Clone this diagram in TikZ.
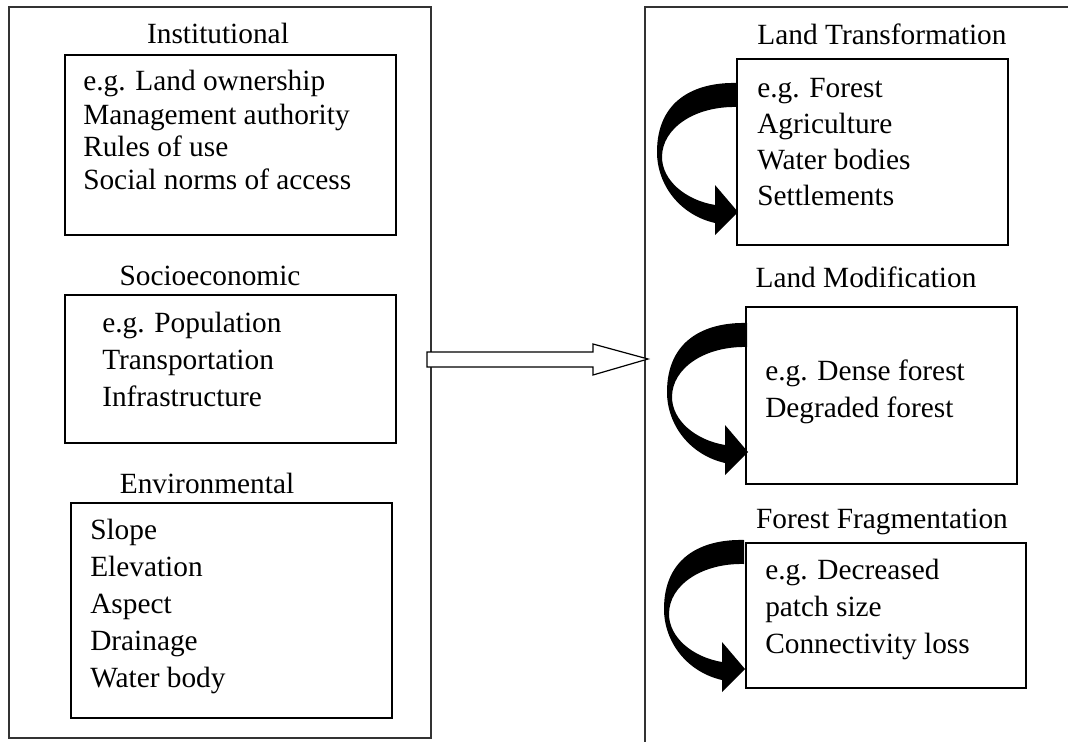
\documentclass[tikz,border=0pt]{standalone}
\usepackage{fontspec}
\setmainfont{Liberation Serif}
\usetikzlibrary{fit}
\begin{document}
\begin{tikzpicture}[x=0.75pt,y=-0.75pt,
  box/.style={draw, line width=0.8pt, inner sep=0pt},
  panel/.style={draw=black!80, line width=0.9pt},
  ttl/.style={anchor=base, inner sep=0pt, font=\fontsize{22}{26}\selectfont},
  bodytxt/.style={anchor=base west, align=left, inner sep=0pt, font=\fontsize{22}{#1}\selectfont},
  bodytxt/.default=27.75pt,
  curvearrow/.pic={
    \fill[black] (737,83) .. controls (695,82) and (657,100) .. (657,152)
      .. controls (657,185) and (680,215) .. (715,223)
      -- (715,235) -- (738,212) -- (715,185) -- (715,205)
      .. controls (685,200) and (662,180) .. (662,157)
      .. controls (662,128) and (695,106) .. (737,107) -- cycle;
  }]
\useasboundingbox (0,0) rectangle (1068,742);

% panels
\node[panel, inner sep=0pt, fit={(9,7) (431,738)}] (left) {};
\coordinate (rtop) at (1068,7);
\coordinate (rcorner) at (645,7);
\coordinate (rbottom) at (645,742);
\draw[panel] (rtop) -- (rcorner) -- (rbottom);

% left panel (body nodes anchored at the baseline of their last line)
\node[ttl] (instT) at (218,44) {Institutional};
\node[box, fit={(65,55) (396,235)}] (instB) {};
\node[bodytxt=24.75pt] (instX) at (83,190) {e.g. Land ownership\\Management authority\\Rules of use\\Social norms of access};

\node[ttl] (socT) at (210,285) {Socioeconomic};
\node[box, fit={(65,295) (396,443)}] (socB) {};
\node[bodytxt] (socX) at (102,406) {e.g. Population\\Transportation\\Infrastructure};

\node[ttl] (envT) at (207,493) {Environmental};
\node[box, fit={(71,503) (392,718)}] (envB) {};
\node[bodytxt] (envX) at (90,687) {Slope\\Elevation\\Aspect\\Drainage\\Water body};

% right panel
\node[ttl] (ltT) at (882,45) {Land Transformation};
\node[box, fit={(737,59) (1008,245)}] (ltB) {};
\node[bodytxt=27pt] (ltX) at (757,205) {e.g. Forest\\Agriculture\\Water bodies\\Settlements};

\node[ttl] (lmT) at (866,287) {Land Modification};
\node[box, fit={(746,307) (1017,484)}] (lmB) {};
\node[bodytxt] (lmX) at (765,417) {e.g. Dense forest\\Degraded forest};

\node[ttl] (ffT) at (882,528) {Forest Fragmentation};
\node[box, fit={(746,543) (1026,688)}] (ffB) {};
\node[bodytxt=27.4pt] (ffX) at (765,653) {e.g. Decreased\\patch size\\Connectivity loss};

% curved arrows
\pic at (0,0) {curvearrow};
\pic at (10,240) {curvearrow};
\pic at (7,457) {curvearrow};

% hollow block arrow
\draw[line width=0.9pt, fill=white, line join=miter]
  (427,352) -- (593,352) -- (593,344) -- (648,359) -- (593,375) -- (593,367) -- (427,367) -- cycle;
\end{tikzpicture}
\end{document}
